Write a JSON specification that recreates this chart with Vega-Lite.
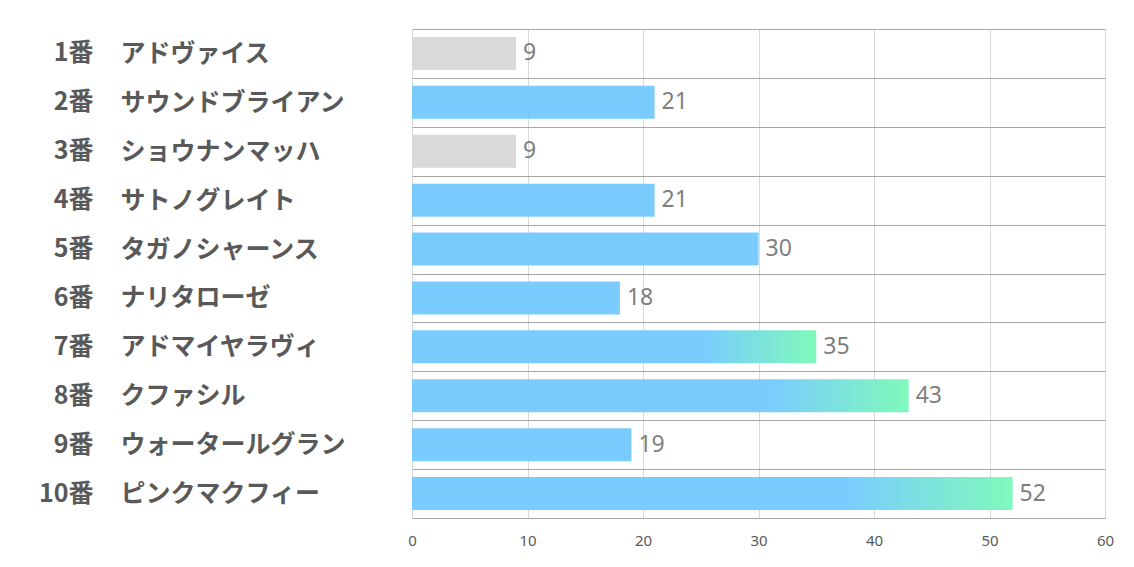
{
  "$schema": "https://vega.github.io/schema/vega-lite/v6.json",
  "width": 693,
  "height": 489,
  "autosize": {"type": "none"},
  "padding": {"left": 412, "top": 29, "right": 29, "bottom": 49},
  "background": "white",
  "config": {"view": {"stroke": null}},
  "data": {
    "values": [
      {"horse": "1番 アドヴァイス", "value": 9},
      {"horse": "2番 サウンドブライアン", "value": 21},
      {"horse": "3番 ショウナンマッハ", "value": 9},
      {"horse": "4番 サトノグレイト", "value": 21},
      {"horse": "5番 タガノシャーンス", "value": 30},
      {"horse": "6番 ナリタローゼ", "value": 18},
      {"horse": "7番 アドマイヤラヴィ", "value": 35},
      {"horse": "8番 クファシル", "value": 43},
      {"horse": "9番 ウォータールグラン", "value": 19},
      {"horse": "10番 ピンクマクフィー", "value": 52}
    ]
  },
  "encoding": {
    "y": {
      "field": "horse",
      "type": "nominal",
      "sort": null,
      "scale": {
        "domain": ["1番 アドヴァイス", "2番 サウンドブライアン", "3番 ショウナンマッハ", "4番 サトノグレイト", "5番 タガノシャーンス", "6番 ナリタローゼ", "7番 アドマイヤラヴィ", "8番 クファシル", "9番 ウォータールグラン", "10番 ピンクマクフィー"],
        "paddingInner": 0,
        "paddingOuter": 0
      },
      "axis": null
    },
    "x": {
      "field": "value",
      "type": "quantitative",
      "scale": {"domain": [0, 60], "nice": false},
      "axis": {
        "title": null,
        "values": [0, 10, 20, 30, 40, 50, 60],
        "domain": false,
        "ticks": false,
        "grid": true,
        "gridColor": "#D9D9D9",
        "gridWidth": 1,
        "labelFlush": false,
        "labelFont": "Noto Sans",
        "labelFontSize": 15,
        "labelColor": "#595959",
        "labelPadding": 15
      }
    }
  },
  "layer": [
    {
      "transform": [{"filter": "datum.value < 10"}],
      "mark": {"type": "bar", "color": "#D9D9D9", "height": {"band": 0.675}},
      "encoding": {
        "y": {
          "field": "horse",
          "type": "nominal",
          "sort": null,
          "axis": {
            "title": null,
            "orient": "left",
            "domain": false,
            "ticks": false,
            "grid": true,
            "tickBand": "extent",
            "gridColor": "#A6A6A6",
            "gridWidth": 1,
            "labelExpr": "split(datum.value, ' ')[1]",
            "labelAlign": "left",
            "labelPadding": 292,
            "labelLimit": 0,
            "labelFont": "Noto Sans CJK JP",
            "labelFontWeight": "bold",
            "labelFontSize": 25,
            "labelColor": "#595959"
          }
        }
      }
    },
    {
      "transform": [{"filter": "datum.value >= 10 && datum.value < 35"}],
      "mark": {"type": "bar", "color": "#7ACCFF", "height": {"band": 0.675}}
    },
    {
      "transform": [{"filter": "datum.value >= 35"}],
      "mark": {
        "type": "bar",
        "height": {"band": 0.675},
        "color": {
          "gradient": "linear",
          "x1": 0, "y1": 0, "x2": 1, "y2": 0,
          "stops": [
            {"offset": 0, "color": "#7ACCFF"},
            {"offset": 0.72, "color": "#7ACCFF"},
            {"offset": 1, "color": "#7FF9BA"}
          ]
        }
      }
    },
    {
      "mark": {
        "type": "text",
        "align": "left",
        "baseline": "middle",
        "dx": 7,
        "font": "Noto Sans",
        "fontSize": 23,
        "color": "#7F7F7F"
      },
      "encoding": {
        "text": {"field": "value", "type": "quantitative"},
        "y": {
          "field": "horse",
          "type": "nominal",
          "sort": null,
          "axis": {
            "title": null,
            "orient": "left",
            "domain": false,
            "ticks": false,
            "grid": false,
            "labelExpr": "split(datum.value, ' ')[0]",
            "labelAlign": "right",
            "labelPadding": 319,
            "labelLimit": 0,
            "labelFont": "Noto Sans CJK JP",
            "labelFontWeight": "bold",
            "labelFontSize": 25,
            "labelColor": "#595959"
          }
        }
      }
    }
  ],
  "resolve": {"axis": {"y": "independent"}}
}
